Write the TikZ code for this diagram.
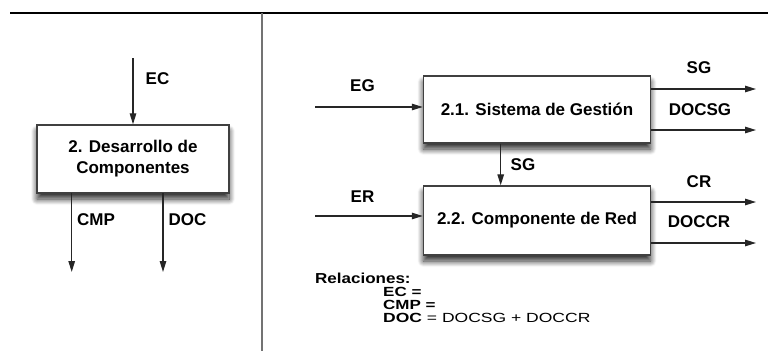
\documentclass[tikz,border=0pt]{standalone}
\usepackage{fontspec}
\setmainfont{Liberation Sans}
\usetikzlibrary{arrows.meta,shadows.blur}
\begin{document}
\begin{tikzpicture}[x=1pt,y=-1pt,
  proc/.style={draw=black!75, line width=1.4pt, fill=white, inner sep=0pt,
    blur shadow={shadow xshift=0pt, shadow yshift=-6pt, shadow blur radius=6pt, shadow opacity=85, shadow blur steps=12},
    font=\fontsize{17}{21}\selectfont\bfseries, align=center},
  lbl/.style={font=\fontsize{17}{20}\selectfont\bfseries, inner sep=0pt},
  flow/.style={draw=black!85, line width=1.3pt, -{Triangle[length=11pt,width=6.5pt]}},
  rel/.style={inner sep=0pt, anchor=west}
]
\useasboundingbox (0,0) rectangle (768,351);
% frame lines
\coordinate (tl) at (10,13);
\coordinate (tr) at (768,13);
\coordinate (vt) at (262,13);
\coordinate (vb) at (262,351);
\draw[line width=2pt, black] (tl) -- (tr);
\draw[line width=1.5pt, black!55] (vt) -- (vb);

% left box
\node[proc, minimum width=192pt, minimum height=68pt] (dc) at (133,159) {2. Desarrollo de\\Componentes};
\coordinate (ecs) at (dc.north |- 0,58);
\draw[flow] (ecs) -- (dc.north);
\node[lbl] (ecl) at (157.5,79) {EC};
\coordinate (cmps) at (71.7,193);
\coordinate (cmpe) at (71.7,272);
\draw[flow] (cmps) -- (cmpe);
\node[lbl] (cmpl) at (96,220) {CMP};
\coordinate (docs) at (163,193);
\coordinate (doce) at (163,272);
\draw[flow] (docs) -- (doce);
\node[lbl] (docl) at (187.5,220) {DOC};

% right boxes
\node[proc, minimum width=227pt, minimum height=67pt] (sg) at (537,109.5) {2.1. Sistema de Gestión};
\node[proc, minimum width=227pt, minimum height=69pt] (cr) at (537,220.5) {2.2. Componente de Red};

\coordinate (egs) at (315,107);
\draw[flow] (egs) -- (egs -| sg.west);
\node[lbl] (egl) at (362.5,86) {EG};
\coordinate (ers) at (315,216);
\draw[flow] (ers) -- (ers -| cr.west);
\node[lbl] (erl) at (362.5,197) {ER};

\coordinate (sg1) at (756,89);
\coordinate (sg2) at (756,130);
\draw[flow] (sg1 -| sg.east) -- (sg1);
\draw[flow] (sg2 -| sg.east) -- (sg2);
\node[lbl] (sgl) at (699,68) {SG};
\node[lbl] (docsgl) at (700,110) {DOCSG};

\coordinate (cr1) at (756,202);
\coordinate (cr2) at (756,243);
\draw[flow] (cr1 -| cr.east) -- (cr1);
\draw[flow] (cr2 -| cr.east) -- (cr2);
\node[lbl] (crl) at (699,182) {CR};
\node[lbl] (doccrl) at (699,222) {DOCCR};

\coordinate (sgv) at (500.7,0);
\draw[flow] (sgv |- sg.south) -- (sgv |- cr.north);
\node[lbl] (sgvl) at (523,165) {SG};

% relations
\node[rel] (r0) at (315,278) {\scalebox{1}[0.85]{\fontsize{17}{20}\selectfont\bfseries Relaciones:}};
\node[rel] (r1) at (383,292) {\scalebox{1}[0.78]{\fontsize{17}{20}\selectfont\bfseries EC =}};
\node[rel] (r2) at (383,305) {\scalebox{1}[0.78]{\fontsize{17}{20}\selectfont\bfseries CMP =}};
\node[rel] (r3) at (383,318) {\scalebox{1.03}[0.78]{\fontsize{17}{20}\selectfont\textbf{DOC} = DOCSG + DOCCR}};
\end{tikzpicture}
\end{document}
